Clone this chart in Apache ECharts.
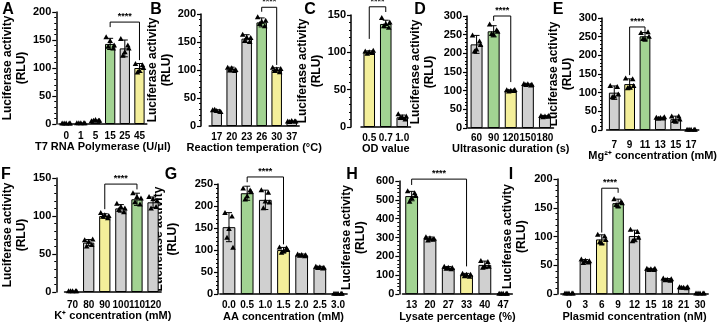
<!DOCTYPE html>
<html lang="en">
<head>
<meta charset="utf-8">
<title>luciferase panels</title>
<script src="https://cdn.jsdelivr.net/npm/echarts@6/dist/echarts.min.js"></script>
<style>
  html, body { margin: 0; padding: 0; background: #fff; }
  #main { width: 719px; height: 323px; }
</style>
</head>
<body>
<div id="main"></div>
<script>
// ---- data ----
var catsA = ['0', '1', '5', '15', '25', '45'];
var meanA = [1, 1.5, 6, 143, 135, 100];
var sdA   = [0, 0, 1, 10, 15, 8];
var ptsA  = [[1,1,1,1,1], [1.5,1.5,1.5,1.5,1.5], [5,6,7,6,6], [155,135,148,138,140], [152,140,128,122,135], [107,105,95,92,100]];

var catsB = ['17', '20', '23', '26', '30', '37'];
var meanB = [27, 101, 156, 185, 100, 8];
var sdB   = [2, 4, 7, 8, 4, 1];
var ptsB  = [[28,26,27,29,25], [104,98,103,99,100], [163,150,158,152,157], [194,178,186,182,188], [104,96,101,98,102], [8,8,9,7,8]];

var catsC = ['0.5', '0.7', '1.0'];
var meanC = [100, 138, 13];
var sdC   = [2, 5, 3];
var ptsC  = [[101,99,100,98,102], [146,133,138,135,140], [17,10,13,12,14]];

var catsD = ['60', '90', '120', '150', '180'];
var meanD = [224, 259, 100, 116, 31];
var sdD   = [24, 15, 2, 2, 2];
var ptsD  = [[248,232,210,205,222], [277,262,250,252,258], [101,99,100,98,102], [118,114,117,115,116], [32,30,31,29,33]];

var catsE = ['7', '9', '11', '13', '15', '17'];
var meanE = [100, 123, 251, 32, 29, 1];
var sdE   = [18, 14, 10, 2, 8, 0];
var ptsE  = [[118,115,90,88,95], [138,136,115,112,118], [260,262,242,244,250], [33,31,32,30,34], [36,36,22,24,28], [1,1,1,1,1]];

var catsF = ['70', '80', '90', '100', '110', '120'];
var meanF = [1, 65, 100, 110, 122, 118];
var sdF   = [0, 4, 3, 5, 8, 7];
var ptsF  = [[1,1,1,1,1], [68,62,66,60,69], [104,97,101,99,100], [116,105,112,108,110], [130,115,125,118,123], [125,112,122,110,120]];

var catsG = ['0.0', '0.5', '1.0', '1.5', '2.0', '2.5', '3.0'];
var meanG = [152, 229, 214, 100, 88, 60, 1];
var sdG   = [33, 16, 22, 6, 3, 3, 0];
var ptsG  = [[184,176,148,128,105], [240,235,222,215,232], [236,230,210,195,208], [106,104,97,94,100], [90,86,89,87,88], [62,58,61,59,60], [1,1,1,1,1]];

var catsH = ['13', '20', '27', '33', '40', '47'];
var meanH = [520, 293, 138, 100, 155, 2];
var sdH   = [25, 10, 8, 10, 20, 0];
var ptsH  = [[545,535,510,490,520], [302,288,296,285,294], [145,132,140,135,138], [108,92,102,95,103], [175,170,148,140,145], [2,2,2,2,2]];

var catsI = ['0', '3', '6', '9', '12', '15', '18', '21', '30'];
var meanI = [1, 57, 95, 158, 101, 43, 25, 11, 1];
var sdI   = [0, 3, 8, 7, 10, 1, 2, 1, 0];
var ptsI  = [[1,1,1,1,1], [60,55,58,54,57], [103,100,88,90,94], [165,160,152,155,158], [112,108,95,92,98], [44,42,43,42,44], [27,23,25,24,26], [12,10,11,11,12], [1,1,1,1,1]];

// significance pairs (category indexes)
var sigA = [3, 5], sigB = [3, 4], sigC = [0, 1], sigD = [1, 2], sigE = [1, 2];
var sigF = [2, 4], sigG = [1, 3], sigH = [0, 3], sigI = [2, 3];

var FONT = '"Liberation Sans", Arial, sans-serif';
var GREY = '#d0d0d0', GREEN = '#a2d392', YELLOW = '#f4ef9a';
var JIT = [-4, 3, 0, -2, 4];

var panels = [
  {letter: 'A', lx: 8,   ly: 10,  cats: catsA, mean: meanA, sd: sdA, pts: ptsA, sig: sigA, green: 3, yellow: 5,
   xName: 'T7 RNA Polymerase (U/\u03bcl)', max: 200, step: 50,
   axisX: 50, left: 52.6, width: 94.2, top: 12, zero: 124, yGap: 23, xGap: 17, lm: 7, sigY: [182, 173, 114]},
  {letter: 'B', lx: 156, ly: 10,  cats: catsB, mean: meanB, sd: sdB, pts: ptsB, sig: sigB, green: 3, yellow: 4,
   xName: 'Reaction temperation (\u00b0C)', max: 200, step: 50,
   axisX: 201, left: 209.2, width: 90, top: 14, zero: 126, yGap: 19, xGap: 15, lm: 6, sigY: [212, 204, 109]},
  {letter: 'C', lx: 310, ly: 10,  cats: catsC, mean: meanC, sd: sdC, pts: ptsC, sig: sigC, green: 1, yellow: 0,
   xName: 'OD value', max: 150, step: 50,
   axisX: 351, left: 361, width: 49.5, top: 15, zero: 127, yGap: 19, xGap: 16, lm: 6, sigY: [161, 118, 154]},
  {letter: 'D', lx: 420, ly: 10,  cats: catsD, mean: meanD, sd: sdD, pts: ptsD, sig: sigD, green: 1, yellow: 2,
   xName: 'Ultrasonic duration (s)', max: 300, step: 50,
   axisX: 467, left: 468, width: 85.5, top: 16, zero: 128, yGap: 30, xGap: 13, lm: 5, sigY: [300, 287, 123]},
  {letter: 'E', lx: 558, ly: 10,  cats: catsE, mean: meanE, sd: sdE, pts: ptsE, sig: sigE, green: 2, yellow: 1,
   xName: 'Mg\u00b2\u207a concentration (mM)', max: 300, step: 50,
   axisX: 602, left: 606.6, width: 100.8, top: 18, zero: 130, yGap: 22, xGap: 18, lm: 10, sigY: [276, 147, 263]},
  {letter: 'F', lx: 6,   ly: 175, cats: catsF, mean: meanF, sd: sdF, pts: ptsF, sig: sigF, green: 4, yellow: 2,
   xName: 'K\u207a concentration (mM)', max: 150, step: 50,
   axisX: 43.3, left: 51.6, width: 109.5, top: 178, zero: 292, yGap: 23, xGap: 17, lm: 8, sigY: [142, 109, 135]},
  {letter: 'G', lx: 171, ly: 175, cats: catsG, mean: meanG, sd: sdG, pts: ptsG, sig: sigG, green: 1, yellow: 3,
   xName: 'AA concentration (mM)', max: 250, step: 50,
   axisX: 218, left: 219.9, width: 127.2, top: 184, zero: 295, yGap: 38, xGap: 14.5, lm: 6, sigY: [266, 254, 113]},
  {letter: 'H', lx: 352, ly: 175, cats: catsH, mean: meanH, sd: sdH, pts: ptsH, sig: sigH, green: 0, yellow: 3,
   xName: 'Lysate percentage (%)', max: 600, step: 100,
   axisX: 399.3, left: 402.5, width: 109.8, top: 181, zero: 295, yGap: 32, xGap: 14.5, lm: 6, sigY: [610, 579, 147]},
  {letter: 'I', lx: 511, ly: 175, cats: catsI, mean: meanI, sd: sdI, pts: ptsI, sig: sigI, green: 3, yellow: 2,
   xName: 'Plasmid concentration (nM)', max: 200, step: 50,
   axisX: 557.5, left: 560.8, width: 147.4, top: 179, zero: 295, yGap: 29, xGap: 14.5, lm: 6, sigY: [184, 107, 176]}
];

var chart = echarts.init(document.getElementById('main'));
var grids = [], xAxes = [], yAxes = [], series = [], graphics = [];

panels.forEach(function (p, k) {
  grids.push({left: p.left, top: p.top, width: p.width, height: p.zero - p.top});

  xAxes.push({
    type: 'category', gridIndex: k, data: p.cats,
    name: p.xName, nameLocation: 'middle', nameGap: p.xGap,
    nameTextStyle: {fontFamily: FONT, fontWeight: 'bold', fontSize: 11, color: '#000'},
    axisLine: {lineStyle: {color: '#000', width: 1.5}},
    axisTick: {alignWithLabel: true, length: 4, lineStyle: {color: '#000', width: 1.2}},
    axisLabel: {interval: 0, margin: p.lm, fontFamily: FONT, fontWeight: 'bold', fontSize: 10, color: '#000'}
  });

  yAxes.push({
    type: 'value', gridIndex: k, min: 0, max: p.max, interval: p.step,
    offset: p.left - p.axisX,
    name: 'Luciferase activity\n(RLU)', nameLocation: 'middle', nameGap: p.yGap,
    nameTextStyle: {fontFamily: FONT, fontWeight: 'bold', fontSize: 12, lineHeight: 14, color: '#000'},
    axisLine: {show: true, lineStyle: {color: '#000', width: 1.5}},
    axisTick: {show: true, length: 4, lineStyle: {color: '#000', width: 1.2}},
    minorTick: {show: true, splitNumber: 5, length: 2, lineStyle: {color: '#000', width: 1}},
    splitLine: {show: false},
    axisLabel: {margin: 5, fontFamily: FONT, fontWeight: 'bold', fontSize: 11, color: '#000'}
  });

  series.push({
    type: 'bar', xAxisIndex: k, yAxisIndex: k, barWidth: '70%', z: 2,
    itemStyle: {borderColor: '#000', borderWidth: 1},
    data: p.mean.map(function (v, i) {
      var c = i === p.green ? GREEN : (i === p.yellow ? YELLOW : GREY);
      return {value: v, itemStyle: {color: c}};
    })
  });

  // replicate points (triangles)
  var pd = [];
  p.pts.forEach(function (arr, i) {
    arr.forEach(function (v, j) { pd.push([i, v, j]); });
  });
  series.push({
    type: 'custom', xAxisIndex: k, yAxisIndex: k, z: 3, data: pd,
    renderItem: function (params, api) {
      var c = api.coord([api.value(0), api.value(1)]);
      var x = c[0] + JIT[api.value(2)], y = c[1];
      return {type: 'polygon', shape: {points: [[x, y - 3], [x - 2.8, y + 2], [x + 2.8, y + 2]]},
              style: {fill: '#000'}};
    }
  });

  // error bars
  series.push({
    type: 'custom', xAxisIndex: k, yAxisIndex: k, z: 4,
    data: p.mean.map(function (v, i) { return [i, v - p.sd[i], v + p.sd[i]]; }),
    renderItem: function (params, api) {
      var lo = api.coord([api.value(0), api.value(1)]);
      var hi = api.coord([api.value(0), api.value(2)]);
      var st = {stroke: '#000', lineWidth: 1};
      return {type: 'group', children: [
        {type: 'line', shape: {x1: lo[0], y1: lo[1], x2: hi[0], y2: hi[1]}, style: st},
        {type: 'line', shape: {x1: lo[0] - 3, y1: lo[1], x2: lo[0] + 3, y2: lo[1]}, style: st},
        {type: 'line', shape: {x1: hi[0] - 3, y1: hi[1], x2: hi[0] + 3, y2: hi[1]}, style: st}
      ]};
    }
  });

  // significance bracket
  series.push({
    type: 'custom', xAxisIndex: k, yAxisIndex: k, z: 5, clip: false,
    data: [[p.sig[0], p.sig[1]]],
    renderItem: function (params, api) {
      var a = api.coord([api.value(0), p.sigY[0]]);
      var b = api.coord([api.value(1), p.sigY[0]]);
      var ae = api.coord([api.value(0), p.sigY[1]]);
      var be = api.coord([api.value(1), p.sigY[2]]);
      return {type: 'group', children: [
        {type: 'polyline', shape: {points: [ae, a, b, be]}, style: {stroke: '#000', lineWidth: 1, fill: null}},
        {type: 'text', x: (a[0] + b[0]) / 2, y: a[1] - 1,
         style: {text: '****', font: 'bold 9px ' + FONT, fill: '#000', textAlign: 'center', textVerticalAlign: 'bottom'}}
      ]};
    }
  });

  graphics.push({type: 'text', x: p.lx, y: p.ly,
    style: {text: p.letter, font: 'bold 16px ' + FONT, fill: '#000', textAlign: 'center', textVerticalAlign: 'middle'}});
});

chart.setOption({
  animation: false,
  grid: grids,
  xAxis: xAxes,
  yAxis: yAxes,
  series: series,
  graphic: graphics
});
</script>
</body>
</html>
